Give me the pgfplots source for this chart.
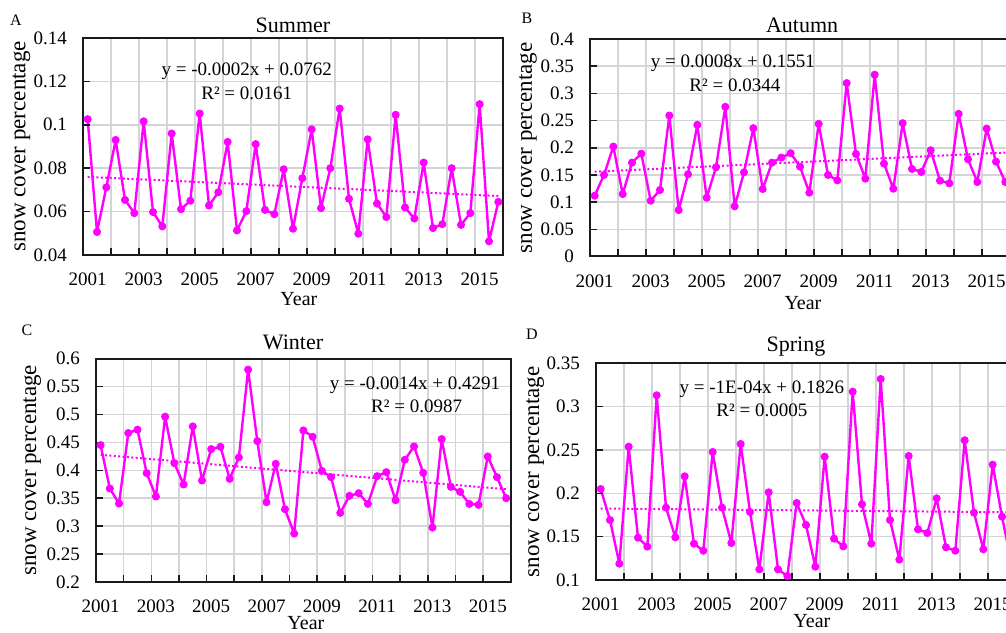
\documentclass[border=0pt]{standalone}
\usepackage{fontspec}
\setmainfont{Liberation Serif}
\usepackage{pgfplots}
\usepackage{pgfplotstable}
\pgfplotsset{compat=1.18}

\definecolor{mag}{RGB}{255,0,255}
\definecolor{gridgray}{RGB}{212,212,216}
\definecolor{framek}{RGB}{25,25,30}

% monthly values, 3 per season per year, 2001-2015
\pgfplotstableread{
idx sum aut win spr
1 0.1026 0.1118 0.4451 0.2050
2 0.0506 0.1500 0.3674 0.1692
3 0.0712 0.2022 0.3405 0.1188
4 0.0930 0.1149 0.4667 0.2538
5 0.0654 0.1727 0.4727 0.1488
6 0.0593 0.1892 0.3949 0.1385
7 0.1016 0.1026 0.3531 0.3131
8 0.0598 0.1223 0.4960 0.1835
9 0.0532 0.2593 0.4129 0.1492
10 0.0960 0.0854 0.3746 0.2196
11 0.0611 0.1512 0.4786 0.1419
12 0.0650 0.2421 0.3818 0.1338
13 0.1052 0.1081 0.4380 0.2477
14 0.0628 0.1641 0.4421 0.1835
15 0.0689 0.2753 0.3848 0.1427
16 0.0921 0.0922 0.4230 0.2569
17 0.0513 0.1548 0.5803 0.1785
18 0.0602 0.2360 0.4523 0.1123
19 0.0911 0.1241 0.3429 0.2012
20 0.0608 0.1727 0.4117 0.1123
21 0.0588 0.1819 0.3303 0.1046
22 0.0795 0.1899 0.2867 0.1888
23 0.0521 0.1653 0.4714 0.1635
24 0.0754 0.1174 0.4601 0.1154
25 0.0979 0.2439 0.3991 0.2423
26 0.0616 0.1500 0.3877 0.1477
27 0.0800 0.1401 0.3238 0.1388
28 0.1075 0.3189 0.3543 0.3173
29 0.0659 0.1886 0.3590 0.1873
30 0.0498 0.1432 0.3399 0.1419
31 0.0933 0.3343 0.3895 0.3319
32 0.0637 0.1708 0.3967 0.1692
33 0.0575 0.1247 0.3465 0.1235
34 0.1046 0.2452 0.4188 0.2431
35 0.0619 0.1610 0.4428 0.1585
36 0.0568 0.1555 0.3955 0.1542
37 0.0826 0.1954 0.2975 0.1942
38 0.0524 0.1395 0.4559 0.1377
39 0.0542 0.1346 0.3704 0.1338
40 0.0800 0.2624 0.3614 0.2612
41 0.0539 0.1788 0.3399 0.1777
42 0.0593 0.1370 0.3381 0.1354
43 0.1095 0.2353 0.4248 0.2331
44 0.0463 0.1745 0.3877 0.1731
45 0.0645 0.1370 0.3501 0.1200
}\seasons

\tikzset{eq/.style={font=\fontsize{9.5}{11}\selectfont, anchor=center}}

% light grid behind the data: #1 ymin, #2 ymax, #3 y grid values
\newcommand{\gridlines}[3]{%
  \pgfplotsinvokeforeach{3,6,...,42}{\draw[gridgray, line width=0.8pt] (axis cs:##1,#1) -- (axis cs:##1,#2);}
  \pgfplotsinvokeforeach{#3}{\draw[gridgray, line width=0.8pt] (axis cs:0,##1) -- (axis cs:45,##1);}
}
% inside tick marks and frame, on top of the data
\newcommand{\framelines}[2]{%
  \pgfplotsinvokeforeach{3,6,...,42}{\draw[framek, line width=0.8pt] (axis cs:##1,#1) -- ++(0pt,3.5pt);}
  \pgfplotsinvokeforeach{#2}{\draw[framek, line width=0.8pt] (axis cs:0,##1) -- ++(3.5pt,0pt);}
  \draw[framek, line width=1pt] (rel axis cs:0,0) rectangle (rel axis cs:1,1);
}

\pgfplotsset{
  season/.style={
    scale only axis, anchor=south west, clip=false,
    width=210pt, height=108.5pt,
    xmin=0, xmax=45,
    xtick={0.5,6.5,...,42.5},
    xticklabels={2001,2003,2005,2007,2009,2011,2013,2015},
    grid=none, major tick length=0pt,
    axis line style={draw=framek, line width=1pt},
    ticklabel style={font=\fontsize{9.5}{11}\selectfont},
    /pgf/number format/assume math mode=true,
    scaled y ticks=false,
    y tick label style={/pgf/number format/fixed, /pgf/number format/precision=2, xshift=-4.5pt},
    x tick label style={yshift=-5.5pt},
    xlabel={Year}, ylabel={snow cover percentage},
  },
  lab/.style n args={6}{
    every axis title/.style={at={(axis description cs:#1,#2)}, anchor=center, font=\fontsize{11}{13}\selectfont},
    every axis x label/.style={at={(axis description cs:#3,#4)}, anchor=center, font=\fontsize{10}{12}\selectfont},
    every axis y label/.style={at={(axis description cs:#5,0.5)}, anchor=center, rotate=90, font=\fontsize{11.5}{13}\selectfont},
    title={#6},
  },
  series/.style={mag, line width=1.2pt, line join=round, mark=*, mark size=1.8pt, mark options={solid, fill=mag, draw=mag, line width=0.4pt}},
  trend/.style={mag, line width=1pt, dash pattern=on 1pt off 1.2pt, forget plot},
}

\begin{document}
\begin{tikzpicture}

% Summer
\begin{axis}[season, at={(41.5pt,188.5pt)},
  lab={0.5}{1.06}{0.514}{-0.203}{-0.147}{Summer},
  ymin=0.04, ymax=0.14, ytick={0.04,0.06,0.08,0.1,0.12,0.14}]
\gridlines{0.04}{0.14}{0.06,0.08,0.1,0.12}
\addplot[series] table[x expr=\thisrow{idx}-0.5, y=sum] {\seasons};
\addplot[trend] coordinates {(0.5,0.0760) (44.5,0.0672)};
\framelines{0.04}{0.06,0.08,0.1,0.12}
\node[eq] at (axis description cs:0.39,0.848) {y = -0.0002x + 0.0762};
\node[eq] at (axis description cs:0.39,0.747) {R² = 0.0161};
\end{axis}

% Autumn
\begin{axis}[season, at={(295pt,187.75pt)}, height=108.75pt,
  lab={0.505}{1.064}{0.507}{-0.214}{-0.148}{Autumn},
  ymin=0, ymax=0.4, ytick={0,0.05,0.1,0.15,0.2,0.25,0.3,0.35,0.4}]
\gridlines{0}{0.4}{0.05,0.1,0.15,0.2,0.25,0.3,0.35}
\addplot[series] table[x expr=\thisrow{idx}-0.5, y=aut] {\seasons};
\addplot[trend] coordinates {(0.5,0.1559) (44.5,0.1911)};
\framelines{0}{0.05,0.1,0.15,0.2,0.25,0.3,0.35}
\node[eq] at (axis description cs:0.34,0.89) {y = 0.0008x + 0.1551};
\node[eq] at (axis description cs:0.345,0.788) {R² = 0.0344};
\end{axis}

% Winter
\begin{axis}[season, at={(48pt,25pt)}, width=207.4pt, height=111.7pt,
  lab={0.475}{1.071}{0.506}{-0.185}{-0.154}{Winter},
  ymin=0.2, ymax=0.6, ytick={0.2,0.25,0.3,0.35,0.4,0.45,0.5,0.55,0.6}]
\gridlines{0.2}{0.6}{0.25,0.3,0.35,0.4,0.45,0.5,0.55}
\addplot[series] table[x expr=\thisrow{idx}-0.5, y=win] {\seasons};
\addplot[trend] coordinates {(0.5,0.4277) (44.5,0.3661)};
\framelines{0.2}{0.25,0.3,0.35,0.4,0.45,0.5,0.55}
\node[eq] at (axis description cs:0.769,0.879) {y = -0.0014x + 0.4291};
\node[eq] at (axis description cs:0.773,0.786) {R² = 0.0987};
\end{axis}

% Spring
\begin{axis}[season, at={(298pt,26pt)}, height=108.35pt,
  lab={0.476}{1.078}{0.514}{-0.19}{-0.145}{Spring},
  ymin=0.1, ymax=0.35, ytick={0.1,0.15,0.2,0.25,0.3,0.35}]
\gridlines{0.1}{0.35}{0.15,0.2,0.25,0.3}
\addplot[series] table[x expr=\thisrow{idx}-0.5, y=spr] {\seasons};
\addplot[trend] coordinates {(0.5,0.1825) (44.5,0.1781)};
\framelines{0.1}{0.15,0.2,0.25,0.3}
\node[eq] at (axis description cs:0.395,0.88) {y = -1E-04x + 0.1826};
\node[eq] at (axis description cs:0.395,0.783) {R² = 0.0005};
\end{axis}

\node[font=\fontsize{8}{9}\selectfont] at (8pt,306pt) {A};
\node[font=\fontsize{8}{9}\selectfont] at (263.5pt,307pt) {B};
\node[font=\fontsize{8}{9}\selectfont] at (13.5pt,151pt) {C};
\node[font=\fontsize{8}{9}\selectfont] at (266pt,149pt) {D};

% the page is cut at the right edge, as in the original figure
\pgfresetboundingbox
\path[use as bounding box] (0,0) rectangle (503pt,316pt);
\end{tikzpicture}
\end{document}
